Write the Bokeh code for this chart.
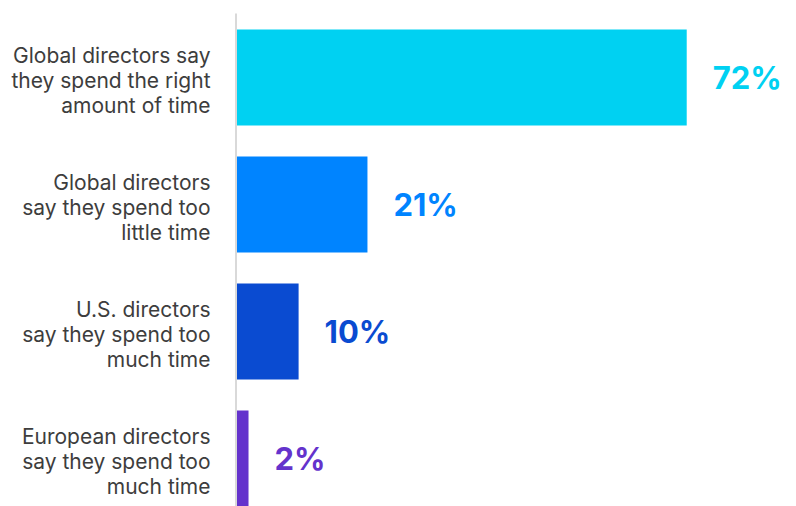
from bokeh.plotting import figure
from bokeh.models import ColumnDataSource, Range1d
from bokeh.core.properties import value
from bokeh.embed import file_html
from bokeh.resources import INLINE

categories = [
    "Global directors say\nthey spend the right\namount of time",
    "Global directors\nsay they spend too\nlittle time",
    "U.S. directors\nsay they spend too\nmuch time",
    "European directors\nsay they spend too\nmuch time",
]
values = [72, 21, 10, 2]
colors = ["#00D1F2", "#0084FF", "#0A4BD1", "#6433CC"]
value_labels = [f"{v}%" for v in values]

# vertical positions: top category highest
ypos = [3, 2, 1, 0]

W, H = 796, 506
px_per_pct = 6.26
x0_px = 235.5
x_start = -x0_px / px_per_pct
x_end = (W - x0_px) / px_per_pct

pitch = 127.0
y_start = (458 - H) / pitch
y_end = 458 / pitch

p = figure(width=W, height=H, output_backend="svg", toolbar_location=None,
           x_range=Range1d(x_start, x_end), y_range=Range1d(y_start, y_end),
           min_border=0, outline_line_color=None)
p.axis.visible = False
p.grid.visible = False
p.background_fill_color = "white"
p.border_fill_color = "white"

src = ColumnDataSource(dict(y=ypos, v=values, c=colors, lab=value_labels, cat=categories))

p.hbar(y="y", right="v", left=0, height=96 / pitch, fill_color="c", line_color=None, source=src)

# axis line
p.segment(x0=[0], y0=[y_start], x1=[0], y1=[(458 - 13) / pitch], line_color="#d9d9d9", line_width=2)

# value labels
p.text(x="v", y="y", text="lab", text_color="c", x_offset=26, y_offset=0,
       text_baseline="middle", text_align="left", text_font=value("Inter"),
       text_font_style="bold", text_font_size="31px", source=src)

# category labels
p.text(x=-25.5 / px_per_pct, y="y", text="cat", text_color="#3d3d3d", y_offset=3,
       text_baseline="middle", text_align="right", text_font=value("Inter"),
       text_font_size="21px", text_line_height=1.0, source=src)

open("out.html", "w").write(file_html(p, INLINE))
